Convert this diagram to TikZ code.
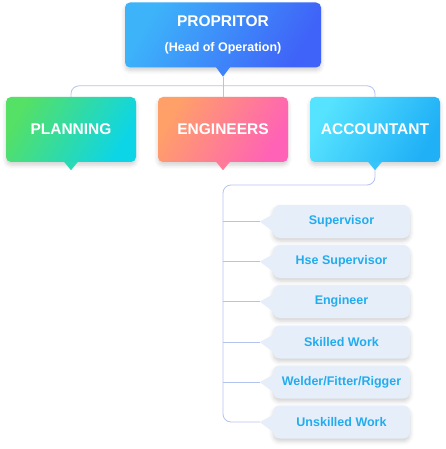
\documentclass[tikz,border=0pt]{standalone}
\usepackage{fontspec}
\setmainfont{Liberation Sans}
\usetikzlibrary{shadows.blur}
\definecolor{propA}{HTML}{3DB4FA}
\definecolor{propB}{HTML}{3F63F8}
\definecolor{planA}{HTML}{55E066}
\definecolor{planB}{HTML}{0CD5E8}
\definecolor{engA}{HTML}{FFA068}
\definecolor{engB}{HTML}{FF62B6}
\definecolor{accA}{HTML}{56E3FF}
\definecolor{accB}{HTML}{20B0F6}
\definecolor{jobfill}{HTML}{E6EEF9}
\definecolor{jobtext}{HTML}{22ACEE}
\definecolor{linkline}{HTML}{B4C2F0}

\begin{document}
\begin{tikzpicture}[x=1pt,y=-1pt,
  softshadow/.style={blur shadow={shadow xshift=0pt,shadow yshift=-3pt,shadow opacity=18,shadow blur radius=4pt}},
  head/.style={rounded corners=5pt,minimum width=130pt,minimum height=65pt,inner sep=0pt,text=white,
    font=\bfseries\fontsize{15.5}{18}\selectfont,softshadow},
  job/.style={rounded corners=7pt,minimum width=137pt,minimum height=33pt,inner sep=0pt,fill=jobfill,
    text=jobtext,font=\bfseries\fontsize{12.5}{15}\selectfont,softshadow},
  link/.style={draw=linkline,line width=0.8pt,rounded corners=8pt}]
\useasboundingbox (0,0) rectangle (446,449);

% top box
\node[head,minimum width=196pt,align=center,left color=propA,right color=propB,shading angle=60] (prop) at (223,35)
  {PROPRITOR\\[7pt]{\fontsize{12.5}{14}\selectfont (Head of Operation)}};
\fill[propA!40!propB] ([xshift=-7pt,yshift=0.5pt]prop.south) -- ([xshift=7pt,yshift=0.5pt]prop.south) -- ([yshift=-9pt]prop.south) -- cycle;
\coordinate (prop tip) at ([yshift=-9pt]prop.south);

% second row
\node[head,left color=planA,right color=planB,shading angle=60] (plan) at (71,129.5) {PLANNING};
\node[head,left color=engA,right color=engB,shading angle=60] (engr) at (223,129.5) {ENGINEERS};
\node[head,left color=accA,right color=accB,shading angle=60] (acct) at (375,129.5) {ACCOUNTANT};
\fill[planA!40!planB] ([xshift=-7pt,yshift=0.5pt]plan.south) -- ([xshift=7pt,yshift=0.5pt]plan.south) -- ([yshift=-8pt]plan.south) -- cycle;
\fill[engA!40!engB] ([xshift=-7pt,yshift=0.5pt]engr.south) -- ([xshift=7pt,yshift=0.5pt]engr.south) -- ([yshift=-8pt]engr.south) -- cycle;
\fill[accA!40!accB] ([xshift=-7pt,yshift=0.5pt]acct.south) -- ([xshift=7pt,yshift=0.5pt]acct.south) -- ([yshift=-8pt]acct.south) -- cycle;
\coordinate (acct tip) at ([yshift=-8pt]acct.south);

% staff under accountant
\node[job] (sup) at (341.5,221.5) {Supervisor};
\node[job] (hse) at (341.5,261.5) {Hse Supervisor};
\node[job] (eng) at (341.5,301.5) {Engineer};
\node[job] (skl) at (341.5,342) {Skilled Work};
\node[job] (wfr) at (341.5,382) {Welder/Fitter/Rigger};
\node[job] (usk) at (341.5,422) {Unskilled Work};
\foreach \j in {sup,hse,eng,skl,wfr,usk}
  \fill[jobfill] ([yshift=7pt]\j.west) -- ([xshift=-13pt]\j.west) -- ([yshift=-10pt]\j.west) -- cycle;

% connectors
\coordinate (spine) at (223,185);
\draw[link] (prop tip) -- (engr.north);
\draw[link] (plan.north) -- ++(0,-11) -| (acct.north);
\draw[link] (acct tip) |- (spine) |- ([xshift=-13pt]usk.west);
\foreach \j in {sup,hse,eng,skl,wfr}
  \draw[link] (\j.west -| spine) -- ([xshift=-13pt]\j.west);
\end{tikzpicture}
\end{document}
